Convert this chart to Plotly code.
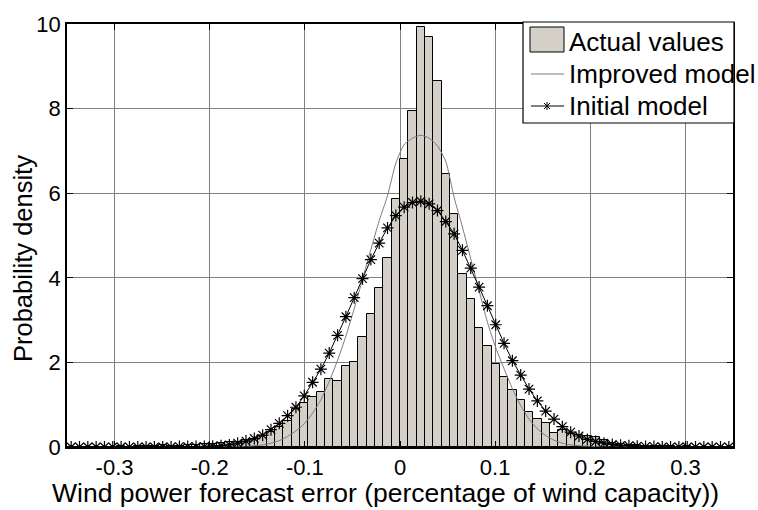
import numpy as np
import plotly.graph_objects as go

# ---------------- data ----------------
bin_start = -0.35
bin_width = 0.00875
n_bins = 80

actual_values = [
    0.01, 0.01, 0.01, 0.01, 0.01, 0.01, 0.02, 0.01, 0.02, 0.02,
    0.02, 0.05, 0.03, 0.03, 0.04, 0.05, 0.06, 0.07, 0.09, 0.12,
    0.13, 0.17, 0.19, 0.26, 0.36, 0.48, 0.62, 0.91, 1.03, 1.19,
    1.30, 1.61, 1.57, 1.92, 2.00, 2.60, 3.14, 3.77, 4.47, 5.87,
    6.82, 7.94, 9.92, 9.70, 8.65, 6.45, 5.50, 4.09, 3.49, 2.82,
    2.39, 1.97, 1.65, 1.35, 1.10, 0.82, 0.66, 0.56, 0.34, 0.40,
    0.30, 0.28, 0.26, 0.24, 0.17, 0.10, 0.08, 0.05, 0.04, 0.03,
    0.03, 0.02, 0.02, 0.01, 0.02, 0.01, 0.01, 0.01, 0.01, 0.01,
]

initial_model = [
    0.00, 0.00, 0.00, 0.00, 0.00, 0.00, 0.00, 0.00, 0.00, 0.00,
    0.00, 0.00, 0.00, 0.01, 0.01, 0.01, 0.01, 0.02, 0.03, 0.05,
    0.09, 0.14, 0.20, 0.28, 0.41, 0.56, 0.74, 0.94, 1.21, 1.53,
    1.84, 2.22, 2.64, 3.08, 3.53, 3.98, 4.43, 4.82, 5.18, 5.47,
    5.67, 5.78, 5.81, 5.75, 5.59, 5.33, 5.04, 4.65, 4.23, 3.78,
    3.34, 2.89, 2.45, 2.04, 1.70, 1.37, 1.09, 0.85, 0.66, 0.48,
    0.35, 0.26, 0.18, 0.13, 0.09, 0.06, 0.04, 0.03, 0.02, 0.01,
    0.01, 0.00, 0.00, 0.00, 0.00, 0.00, 0.00, 0.00, 0.00, 0.00,
]

improved_model = [
    0.00, 0.00, 0.00, 0.00, 0.00, 0.00, 0.00, 0.00, 0.00, 0.00,
    0.00, 0.00, 0.00, 0.00, 0.00, 0.00, 0.00, 0.00, 0.00, 0.01,
    0.01, 0.02, 0.03, 0.05, 0.09, 0.15, 0.25, 0.38, 0.55, 0.80,
    1.12, 1.55, 2.05, 2.62, 3.27, 3.97, 4.67, 5.35, 5.94, 6.71,
    7.15, 7.30, 7.37, 7.30, 7.12, 6.75, 5.90, 5.20, 4.45, 3.70,
    2.95, 2.35, 1.85, 1.38, 0.98, 0.66, 0.43, 0.27, 0.16, 0.09,
    0.05, 0.03, 0.02, 0.01, 0.00, 0.00, 0.00, 0.00, 0.00, 0.00,
    0.00, 0.00, 0.00, 0.00, 0.00, 0.00, 0.00, 0.00, 0.00, 0.00,
]

x_tick_vals = [-0.3, -0.2, -0.1, 0.0, 0.1, 0.2, 0.3]
x_tick_text = ["-0.3", "-0.2", "-0.1", "0", "0.1", "0.2", "0.3"]
y_tick_vals = [0, 2, 4, 6, 8, 10]
y_tick_text = ["0", "2", "4", "6", "8", "10"]

series_names = ["Actual values", "Improved model", "Initial model"]
x_title = "Wind power forecast error (percentage of wind capacity))"
y_title = "Probability density"

bin_centers = np.round(bin_start + bin_width * (np.arange(n_bins) + 0.5), 6)

# ---------------- figure ----------------
W, H = 758, 510
ML, MR, MT, MB = 67, 25, 24, 63
PW, PH = W - ML - MR, H - MT - MB
FONT = "Liberation Sans, Arial, sans-serif"
BAR_COLOR = "#d4d0c8"
GRID = "#808080"


def px_x(px):
    return (px - ML) / PW


def px_y(py):
    return 1 - (py - MT) / PH


fig = go.Figure()
fig.add_trace(go.Bar(
    x=bin_centers, y=actual_values, width=bin_width,
    marker=dict(color=BAR_COLOR, line=dict(color="black", width=1)),
    name=series_names[0], showlegend=False,
))
fig.add_trace(go.Scatter(
    x=bin_centers, y=improved_model, mode="lines",
    line=dict(color="#7a7a7a", width=1, shape="spline", smoothing=0.6),
    name=series_names[1], showlegend=False,
))
fig.add_trace(go.Scatter(
    x=bin_centers, y=initial_model, mode="lines+markers",
    line=dict(color="black", width=1),
    marker=dict(symbol="asterisk-open", size=10, color="black",
                line=dict(color="black", width=1.2)),
    name=series_names[2], showlegend=False,
))

axis_common = dict(
    showgrid=True, gridcolor=GRID, gridwidth=1,
    showline=True, linecolor="black", linewidth=1.5, mirror="ticks",
    ticks="inside", ticklen=6, tickcolor="black",
    tickfont=dict(family=FONT, size=22, color="black"),
    zeroline=False,
)
fig.update_xaxes(range=[-0.35, 0.35], tickvals=x_tick_vals, ticktext=x_tick_text,
                 **axis_common)
fig.update_yaxes(range=[0, 10], tickvals=y_tick_vals, ticktext=y_tick_text,
                 **axis_common)

shapes = []
annotations = []
# legend box
shapes.append(dict(type="rect", xref="paper", yref="paper",
                   x0=px_x(523), x1=px_x(734), y0=px_y(123), y1=px_y(22),
                   line=dict(color="black", width=1.2), fillcolor="white", layer="above"))
shapes.append(dict(type="rect", xref="paper", yref="paper",
                   x0=px_x(530), x1=px_x(564), y0=px_y(52), y1=px_y(27),
                   line=dict(color="black", width=1), fillcolor=BAR_COLOR, layer="above"))
shapes.append(dict(type="line", xref="paper", yref="paper",
                   x0=px_x(531), x1=px_x(564), y0=px_y(74), y1=px_y(74),
                   line=dict(color="#7a7a7a", width=1), layer="above"))
shapes.append(dict(type="line", xref="paper", yref="paper",
                   x0=px_x(531), x1=px_x(564), y0=px_y(106), y1=px_y(106),
                   line=dict(color="black", width=1), layer="above"))
for dx0, dy0, dx1, dy1 in [(0, -4, 0, 4), (-3, -3, 3, 3), (-3, 3, 3, -3)]:
    shapes.append(dict(type="line", xref="paper", yref="paper",
                       x0=px_x(547 + dx0), x1=px_x(547 + dx1),
                       y0=px_y(106 + dy0), y1=px_y(106 + dy1),
                       line=dict(color="black", width=1), layer="above"))
for name, cy in zip(series_names, [42, 74, 106]):
    annotations.append(dict(text=name, xref="paper", yref="paper",
                            x=px_x(567), y=px_y(cy), xanchor="left", yanchor="middle",
                            showarrow=False,
                            font=dict(family=FONT, size=26, color="black")))

annotations.append(dict(text=x_title, xref="paper", yref="paper",
                        x=px_x(385), y=px_y(493), xanchor="center", yanchor="middle",
                        showarrow=False, font=dict(family=FONT, size=26.5, color="black")))
annotations.append(dict(text=y_title, xref="paper", yref="paper",
                        x=px_x(23), y=px_y(259), xanchor="center", yanchor="middle",
                        textangle=-90, showarrow=False,
                        font=dict(family=FONT, size=25.5, color="black")))

fig.update_layout(
    width=W, height=H,
    margin=dict(l=ML, r=MR, t=MT, b=MB, pad=0),
    paper_bgcolor="white", plot_bgcolor="white",
    bargap=0, barmode="overlay",
    shapes=shapes, annotations=annotations,
    showlegend=False,
    font=dict(family=FONT, color="black"),
)

fig.write_html("out.html")
